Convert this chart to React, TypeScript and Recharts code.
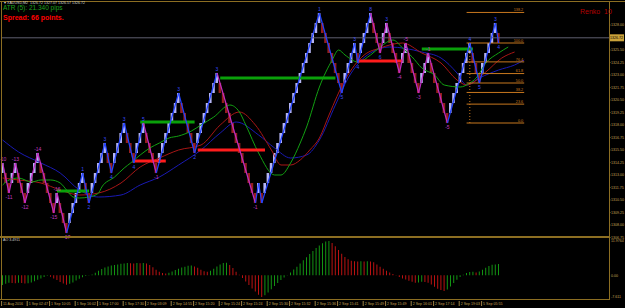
import React from 'react';
import {
  ComposedChart,
  Bar,
  Line,
  XAxis,
  YAxis,
  ReferenceLine,
  ReferenceDot,
  Cell,
} from 'recharts';

// renko box size and number of bar slots on the time axis
const BOX = 1.0;
const SLOTS = 190;
const lastPrice = 1326.72;

// renko brick closes (XAUUSD, box 10 pips)
const closes = [
  1314.2, 1312.2, 1311.2, 1313.2, 1314.2, 1312.2, 1311.2, 1310.2, 1312.2, 1313.2,
  1314.2, 1315.2, 1313.2, 1312.2, 1311.2, 1310.2, 1309.2, 1311.2, 1309.2, 1308.2,
  1307.2, 1309.2, 1310.2, 1311.2, 1312.2, 1313.2, 1311.2, 1310.2, 1312.2, 1313.2,
  1314.2, 1315.2, 1316.2, 1314.2, 1313.2, 1315.2, 1316.2, 1317.2, 1318.2, 1316.2,
  1315.2, 1314.2, 1316.2, 1317.2, 1318.2, 1316.2, 1315.2, 1314.2, 1313.2, 1315.2,
  1316.2, 1317.2, 1318.2, 1319.2, 1320.2, 1321.2, 1319.2, 1318.2, 1317.2, 1316.2,
  1315.2, 1317.2, 1318.2, 1319.2, 1320.2, 1321.2, 1322.2, 1323.2, 1321.2, 1320.2,
  1319.2, 1318.2, 1317.2, 1316.2, 1315.2, 1314.2, 1313.2, 1312.2, 1311.2, 1310.2,
  1312.2, 1310.2, 1312.2, 1313.2, 1314.2, 1315.2, 1316.2, 1317.2, 1318.2, 1319.2,
  1320.2, 1321.2, 1322.2, 1323.2, 1324.2, 1325.2, 1326.2, 1327.2, 1328.2, 1329.2,
  1327.2, 1326.2, 1325.2, 1324.2, 1323.2, 1322.2, 1321.2, 1323.2, 1324.2, 1325.2,
  1326.2, 1324.2, 1326.2, 1327.2, 1328.2, 1329.2, 1327.2, 1326.2, 1325.2, 1327.2,
  1328.2, 1326.2, 1325.2, 1324.2, 1323.2, 1325.2, 1326.2, 1324.2, 1323.2, 1322.2,
  1321.2, 1323.2, 1324.2, 1325.2, 1323.2, 1322.2, 1321.2, 1320.2, 1319.2, 1318.2,
  1320.2, 1321.2, 1322.2, 1323.2, 1324.2, 1325.2, 1326.2, 1324.2, 1323.2, 1322.2,
  1324.2, 1325.2, 1326.2, 1327.2, 1328.2, 1326.2,
];

// Awesome Oscillator, one value per brick
const aoValues = [
  -3.4, -3.0, -2.6, -2.7, -2.8, -2.6, -2.7, -2.9, -2.8, -2.5,
  -2.1, -1.6, -1.1, -0.6, -0.2, -0.5, -1.1, -1.7, -2.4, -2.9,
  -3.3, -3.0, -2.5, -1.8, -1.2, -0.7, -0.3, -0.1, 0.3, 0.9,
  1.6, 2.2, 2.7, 3.1, 3.4, 3.6, 3.8, 4.0, 4.1, 4.3,
  4.2, 4.1, 4.3, 4.2, 4.3, 4.1, 3.6, 2.8, 1.9, 1.2,
  0.8, 0.6, 0.9, 1.3, 1.8, 2.3, 2.7, 3.0, 3.3, 3.4,
  3.1, 2.6, 1.9, 1.4, 1.2, 1.6, 2.3, 3.1, 3.8, 4.3,
  4.4, 3.6, 2.5, 1.2, 0.2, -1.0, -2.2, -3.4, -4.6, -5.7,
  -6.8, -7.611, -7.0, -6.0, -4.9, -3.8, -2.7, -1.7, -0.8, 0.1,
  1.0, 2.0, 3.0, 4.1, 5.2, 6.3, 7.4, 8.5, 9.5, 10.4,
  11.2, 11.8, 11.9764, 11.3, 10.1, 8.8, 7.5, 6.4, 5.6, 5.1,
  4.9, 4.8, 4.9, 4.8, 4.9, 4.8, 4.5, 3.8, 3.0, 2.3,
  1.6, 1.0, 0.4, -0.1, -0.6, -1.1, -1.5, -1.9, -2.3, -2.6,
  -2.5, -2.3, -2.4, -2.6, -3.2, -4.0, -4.7, -5.2, -5.5, -5.0,
  -3.9, -2.7, -1.6, -0.6, 0.2, 0.8, 1.1, 1.2, 1.0, 1.3,
  1.9, 2.6, 3.2, 3.7, 3.8, 3.9,
];

// alligator lines: [bar index, price]
const lipsPoints = [
  [0, 1312.0], [2, 1312.5], [5, 1312.7], [9, 1312.3], [12, 1312.5], [15, 1312.5],
  [18, 1312.2], [20, 1311.5], [22, 1310.8], [24, 1310.7], [27, 1310.8], [30, 1311.2],
  [31, 1311.8], [35, 1312.8], [38, 1313.7], [40, 1314.2], [43, 1315.0], [46, 1315.7],
  [49, 1316.2], [52, 1316.7], [55, 1316.9], [59, 1317.4], [62, 1318.0], [66, 1318.8],
  [71, 1320.0], [74, 1319.3], [76, 1318.0], [80, 1315.2], [85, 1313.0], [87, 1313.0],
  [90, 1314.2], [93, 1316.2], [95, 1317.8], [99, 1321.8], [103, 1324.5], [105, 1325.5],
  [107, 1325.0], [111, 1324.3], [115, 1325.0], [118, 1325.8], [122, 1326.5], [125, 1325.7],
  [128, 1324.8], [131, 1323.7], [135, 1323.0], [138, 1322.0], [143, 1321.8], [146, 1322.2],
  [148, 1322.7], [151, 1324.2], [155, 1325.2], [158, 1325.8],
];
const teethPoints = [
  [0, 1312.7], [5, 1312.5], [12, 1312.2], [18, 1311.5], [24, 1311.0], [30, 1311.2],
  [37, 1312.2], [43, 1313.8], [49, 1314.7], [55, 1315.5], [62, 1316.0], [68, 1318.0],
  [74, 1319.3], [79, 1318.0], [84, 1315.5], [87, 1314.0], [90, 1314.0], [93, 1314.5],
  [96, 1315.5], [99, 1316.7], [102, 1319.0], [107, 1322.5], [113, 1325.0], [118, 1325.7],
  [125, 1326.2], [131, 1325.2], [137, 1324.2], [142, 1322.5], [145, 1322.0], [151, 1323.3],
  [156, 1324.7], [160, 1325.3],
];
const jawPoints = [
  [0, 1316.5], [5, 1315.3], [12, 1314.2], [18, 1313.2], [24, 1311.5], [30, 1310.8],
  [37, 1311.0], [43, 1312.0], [49, 1312.8], [55, 1314.0], [62, 1315.5], [68, 1317.2],
  [73, 1318.3], [80, 1317.0], [85, 1315.7], [90, 1314.7], [95, 1315.0], [99, 1316.5],
  [104, 1320.0], [108, 1322.7], [114, 1325.0], [121, 1325.8], [131, 1325.3], [137, 1324.7],
  [142, 1323.2], [145, 1322.0], [149, 1322.7], [155, 1323.5], [160, 1324.0], [163, 1324.5],
];

// zigzag wave labels, one per swing point (in time order)
const swingLabels = [
  '-10', '-11', '-13', '-12', '-14', '-15', '-16', '-17',
  '1', '2', '3', '4', '3', '4', '5', '-1',
  '3', '2', '3', '-1', '', '',
  '1', '5', '3', '4', '8', '6', '3', '-4', '-5', '-3', '-1', '-5',
  '4', '5', '3', '4',
];
// bar ranges where the zigzag is in its down-count phase
const downPhases = [[0, 20], [44, 48], [67, 79], [115, 139]];

// support / resistance segments: price, first bar, last bar
const greenLevels = [
  { price: 1311.4, from: 17, to: 27 },
  { price: 1318.3, from: 43, to: 60 },
  { price: 1322.7, from: 68, to: 104 },
  { price: 1325.6, from: 131, to: 147 },
];
const redLevels = [
  { price: 1314.4, from: 41, to: 51 },
  { price: 1315.5, from: 61, to: 82 },
  { price: 1324.4, from: 111, to: 125 },
];

// fibonacci retracement
const fibLow = 1318.2;
const fibHigh = 1326.2;
const fibFrom = 145;
const fibTo = 163;
const fibAnchor = 146;
const fibRatios = [0, 23.6, 38.2, 50, 61.8, 76.4, 100, 138.2];

const priceTicks = [
  1328.0, 1325.5, 1324.25, 1323.0, 1321.75, 1320.5, 1319.25, 1318.0, 1316.75,
  1315.5, 1314.25, 1313.0, 1311.75, 1310.5, 1309.25, 1308.0, 1306.75,
];
const aoTicks = [11.9764, 0, -7.611];
const aoTickLabels = ['11.9764', '0.00', '-7.611'];
const timeTicks = [0, 8, 15, 23, 30, 38, 45, 53, 60, 68, 75, 83, 90, 98, 105, 113, 120, 128, 135, 143, 150];
const timeLabels = [
  '11 Aug 2016', '1 Sep 02:47', '1 Sep 10:05', '1 Sep 16:02', '1 Sep 17:00', '1 Sep 17:30',
  '2 Sep 03:09', '2 Sep 14:55', '2 Sep 15:20', '2 Sep 15:24', '2 Sep 15:24', '2 Sep 15:30',
  '2 Sep 15:32', '2 Sep 15:36', '2 Sep 15:41', '2 Sep 15:49', '2 Sep 15:49', '2 Sep 16:01',
  '2 Sep 17:14', '2 Sep 19:03', '5 Sep 05:55',
];

const FRAME = '#8c6e22';
const AXIS_TEXT = '#c4a256';
const UP_BRICK = '#b4b4f4';
const DOWN_BRICK = '#961e1e';
const ZIG_UP = '#2342ff';
const ZIG_DOWN = '#c02cc0';
const TINY = 3.6;

const rows: any[] = Array.from({ length: SLOTS }, (_, i) => {
  const row: any = { i };
  if (i < closes.length) {
    const prev = i === 0 ? closes[0] - BOX : closes[i - 1];
    const up = closes[i] > prev;
    row.up = up;
    row.brick = up ? [closes[i] - BOX, closes[i]] : [closes[i], closes[i] + BOX];
    row.ao = aoValues[i];
    row.aoUp = i === 0 ? true : aoValues[i] >= aoValues[i - 1];
  }
  return row;
});
lipsPoints.forEach(([i, v]) => { rows[i].lips = v; });
teethPoints.forEach(([i, v]) => { rows[i].teeth = v; });
jawPoints.forEach(([i, v]) => { rows[i].jaw = v; });

// swing points of the renko path
const swings: { i: number; price: number; peak: boolean }[] = [];
for (let k = 0; k < closes.length; k++) {
  const last = k === closes.length - 1;
  if (k === 0 || last || rows[k].up !== rows[k + 1].up) {
    swings.push({ i: k, price: closes[k], peak: rows[k].up });
  }
}
const inDownPhase = (a: number, b: number) =>
  downPhases.some(([s, e]) => a >= s && b <= e);

const PriceTag = (props: any) => {
  const vb = props.viewBox;
  if (!vb) return null;
  const x = vb.x + vb.width;
  return (
    <g>
      <rect x={x} y={vb.y - 3.5} width={15} height={7} fill="#caa23a" />
      <text x={x + 1} y={vb.y + 1.4} fontSize={TINY} fill="#000">{lastPrice.toFixed(2)}</text>
    </g>
  );
};

const fibLabel = (text: string) => (props: any) => {
  const vb = props.viewBox;
  if (!vb) return null;
  return (
    <text x={vb.x + vb.width - 1} y={vb.y - 1.2} textAnchor="end" fontSize={3.8} fill="#c8781e">
      {text}
    </text>
  );
};

const TimeTick = (props: any) => {
  const { x, y, payload } = props;
  const label = timeLabels[timeTicks.indexOf(payload.value)] ?? '';
  return (
    <g>
      <line x1={x - 1} x2={x - 1} y1={y + 4} y2={y + 9} stroke={AXIS_TEXT} strokeWidth={0.8} />
      <text x={x + 0.5} y={y + 8.3} fontSize={TINY} fill={AXIS_TEXT}>{label}</text>
    </g>
  );
};

const AoTick = (props: any) => {
  const { x, y, payload } = props;
  const label = aoTickLabels[aoTicks.indexOf(payload.value)] ?? '';
  return (
    <text x={x} y={y + 1.3} fontSize={TINY} fill={AXIS_TEXT}>{label}</text>
  );
};

export default function App() {
  return (
    <div
      style={{
        position: 'fixed',
        left: 0,
        top: 0,
        width: 625,
        height: 308,
        background: '#000',
        overflow: 'hidden',
        fontFamily: '"Liberation Sans", Arial, sans-serif',
      }}
    >
      {/* price panel */}
      <div style={{ position: 'absolute', left: 0, top: 0 }}>
        <ComposedChart width={625} height={239} data={rows} margin={{ top: 3, right: 0, bottom: 0, left: 1 }}>
          <XAxis dataKey="i" type="category" hide />
          <YAxis
            orientation="right"
            width={16}
            domain={[1306.6, 1330.2]}
            allowDataOverflow
            ticks={priceTicks}
            interval={0}
            tickFormatter={(v: number) => v.toFixed(2)}
            axisLine={false}
            tickLine={{ stroke: FRAME }}
            tickSize={1.5}
            tickMargin={0.5}
            tick={{ fontSize: TINY, fill: AXIS_TEXT }}
          />
          <ReferenceLine y={lastPrice} stroke="#5e5e6e" strokeWidth={1} label={<PriceTag />} />
          <Bar dataKey="brick" barSize={2.6} isAnimationActive={false}>
            {rows.map((r) => (
              <Cell key={`b-${r.i}`} fill={r.up ? UP_BRICK : DOWN_BRICK} />
            ))}
          </Bar>
          <Line dataKey="jaw" type="monotone" stroke="#1a1ab4" strokeWidth={1} dot={false} connectNulls isAnimationActive={false} />
          <Line dataKey="teeth" type="monotone" stroke="#a81616" strokeWidth={1} dot={false} connectNulls isAnimationActive={false} />
          <Line dataKey="lips" type="monotone" stroke="#12a012" strokeWidth={1} dot={false} connectNulls isAnimationActive={false} />

          {greenLevels.map((l, k) => (
            <ReferenceLine
              key={`g-${k}`}
              segment={[{ x: l.from, y: l.price }, { x: l.to, y: l.price }]}
              stroke="#0aa00a"
              strokeWidth={3}
            />
          ))}
          {redLevels.map((l, k) => (
            <ReferenceLine
              key={`r-${k}`}
              segment={[{ x: l.from, y: l.price }, { x: l.to, y: l.price }]}
              stroke="#ff1c1c"
              strokeWidth={3}
            />
          ))}

          {fibRatios.map((r) => {
            const p = fibLow + ((fibHigh - fibLow) * r) / 100;
            return (
              <ReferenceLine
                key={`f-${r}`}
                segment={[{ x: fibFrom, y: p }, { x: fibTo, y: p }]}
                stroke="#c8781e"
                strokeWidth={1}
                ifOverflow="visible"
                label={fibLabel(r.toFixed(1))}
              />
            );
          })}
          <ReferenceLine
            segment={[{ x: fibAnchor, y: fibLow }, { x: fibAnchor, y: fibHigh }]}
            stroke="#c8781e"
            strokeDasharray="1 2"
          />

          {swings.slice(0, -1).map((s, k) => {
            const n = swings[k + 1];
            return (
              <ReferenceLine
                key={`z-${k}`}
                segment={[{ x: s.i, y: s.price }, { x: n.i, y: n.price }]}
                stroke={inDownPhase(s.i, n.i) ? ZIG_DOWN : ZIG_UP}
                strokeWidth={1.2}
              />
            );
          })}
          {swings.map((s, k) => {
            const text = swingLabels[k] ?? '';
            if (!text) return null;
            return (
              <ReferenceDot
                key={`l-${k}`}
                x={s.i}
                y={s.price}
                r={0}
                fill="none"
                stroke="none"
                label={{
                  value: text,
                  position: s.peak ? 'top' : 'bottom',
                  offset: 2,
                  fontSize: 5,
                  fill: text.startsWith('-') ? '#c23ac2' : '#3a4cff',
                }}
              />
            );
          })}
        </ComposedChart>
      </div>

      {/* AO panel */}
      <div style={{ position: 'absolute', left: 0, top: 0 }}>
        <ComposedChart width={625} height={308} data={rows} margin={{ top: 241, right: 0, bottom: 0, left: 1 }}>
          <XAxis
            dataKey="i"
            type="category"
            height={11}
            ticks={timeTicks}
            interval={0}
            tick={<TimeTick />}
            tickLine={false}
            axisLine={false}
            tickSize={0}
            tickMargin={0}
          />
          <YAxis
            orientation="right"
            width={16}
            domain={[-7.611, 11.9764]}
            allowDataOverflow
            ticks={aoTicks}
            interval={0}
            axisLine={false}
            tickLine={false}
            tickSize={1}
            tickMargin={1}
            tick={<AoTick />}
          />
          <Bar dataKey="ao" barSize={1} isAnimationActive={false}>
            {rows.map((r) => (
              <Cell key={`a-${r.i}`} fill={r.aoUp ? '#139313' : '#bb1212'} />
            ))}
          </Bar>
        </ComposedChart>
      </div>

      {/* frame */}
      <div style={{ position: 'absolute', left: 0, top: 1, width: 625, height: 1, background: FRAME }} />
      <div style={{ position: 'absolute', left: 1, top: 1, width: 1, height: 299, background: FRAME }} />
      <div style={{ position: 'absolute', left: 609, top: 1, width: 1, height: 299, background: FRAME }} />
      <div style={{ position: 'absolute', left: 0, top: 236, width: 610, height: 2, background: FRAME }} />
      <div style={{ position: 'absolute', left: 0, top: 299, width: 610, height: 1, background: FRAME }} />

      {/* texts */}
      <div style={{ position: 'absolute', left: 4, top: 1.5, fontSize: 3.6, color: '#cfcfcf', whiteSpace: 'pre', lineHeight: 1 }}>
        {'▾ XAUUSD,M2  1326.72 1327.07 1326.57 1326.72'}
      </div>
      <div style={{ position: 'absolute', left: 3, top: 5, fontSize: 6.5, color: '#1fa01f', whiteSpace: 'pre', lineHeight: 1 }}>
        ATR (5): 21.340 pips
      </div>
      <div style={{ position: 'absolute', left: 3, top: 13.5, fontSize: 7, fontWeight: 700, color: '#ff0000', whiteSpace: 'pre', lineHeight: 1 }}>
        Spread: 66 points.
      </div>
      <div style={{ position: 'absolute', left: 580, top: 8, fontSize: 7, color: '#b40000', whiteSpace: 'pre', lineHeight: 1 }}>
        {'Renko  10'}
      </div>
      <div style={{ position: 'absolute', left: 3, top: 239, fontSize: 3.6, color: '#cfcfcf', whiteSpace: 'pre', lineHeight: 1 }}>
        AO 3.4911
      </div>
    </div>
  );
}
